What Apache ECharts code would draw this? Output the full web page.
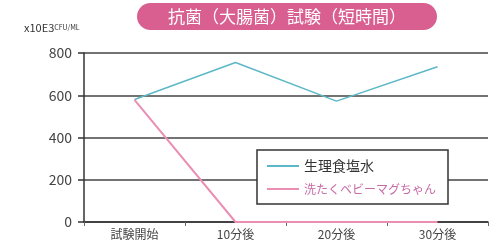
<!DOCTYPE html>
<html><head><meta charset="utf-8">
<script src="https://cdn.jsdelivr.net/npm/echarts@6/dist/echarts.min.js"></script>
<style>html,body{margin:0;padding:0;background:#fff}#c{width:490px;height:244px}</style>
</head><body><div id="c"></div>
<script>
const categories = ['試験開始', '10分後', '20分後', '30分後'];
const salineValues = [580, 755, 572, 735];
const magValues = [578, 0, 0, 0];
const seriesNames = ['生理食塩水', '洗たくベビーマグちゃん'];
const yTicks = [0, 200, 400, 600, 800];
const titleText = '抗菌（大腸菌）試験（短時間）';

const chart = echarts.init(document.getElementById('c'));
const font = '"Noto Sans CJK JP", "Noto Sans", sans-serif';
chart.setOption({
  animation: false,
  textStyle: { fontFamily: font },
  title: {
    text: titleText,
    left: 137, top: 3,
    backgroundColor: '#d85f90',
    borderRadius: 15,
    padding: [5, 31, 5, 31],
    textStyle: { color: '#fff', fontSize: 17, fontWeight: 'normal', fontFamily: font }
  },
  graphic: [{
    type: 'text', left: 24, top: 22,
    style: {
      text: '{a|x10E3}{b|CFU/ML}',
      rich: {
        a: { fontSize: 11, fill: '#333', fontFamily: font },
        b: { fontSize: 7, fill: '#333', fontFamily: font }
      }
    }
  }],
  legend: {
    orient: 'vertical',
    left: 257, top: 150,
    padding: [9, 12, 9, 10],
    itemGap: 10,
    itemWidth: 32, itemHeight: 2,
    backgroundColor: '#fff',
    borderColor: '#333', borderWidth: 1.5,
    data: [
      { name: seriesNames[0], icon: 'rect', textStyle: { fontSize: 14, color: '#333' } },
      { name: seriesNames[1], icon: 'rect', textStyle: { fontSize: 12, color: '#c86aa6' } }
    ],
    textStyle: { fontFamily: font }
  },
  grid: { left: 84, right: 2, top: 53, bottom: 22, containLabel: false },
  xAxis: {
    type: 'category',
    data: categories,
    boundaryGap: true,
    axisLine: { lineStyle: { color: '#333', width: 1.5 } },
    axisTick: { show: true, length: 4, lineStyle: { color: '#666' } },
    axisLabel: { color: '#444', fontSize: 12, margin: 6, fontFamily: font }
  },
  yAxis: {
    type: 'value',
    min: yTicks[0], max: yTicks[yTicks.length - 1], interval: 200,
    axisLine: { show: true, lineStyle: { color: '#333', width: 1.5 } },
    axisTick: { show: true, length: 6, lineStyle: { color: '#333', width: 1.5 } },
    axisLabel: { color: '#444', fontSize: 14, margin: 12, fontFamily: font },
    splitLine: { show: true, lineStyle: { color: '#444', width: 1.5 } }
  },
  series: [
    { name: seriesNames[0], type: 'line', data: salineValues, symbol: 'none',
      lineStyle: { color: '#5cb8c6', width: 1.5 }, itemStyle: { color: '#5cb8c6' }, z: 3 },
    { name: seriesNames[1], type: 'line', data: magValues, symbol: 'none',
      lineStyle: { color: '#ea8fb3', width: 2 }, itemStyle: { color: '#ea8fb3' }, z: 3 }
  ]
});
</script></body></html>
